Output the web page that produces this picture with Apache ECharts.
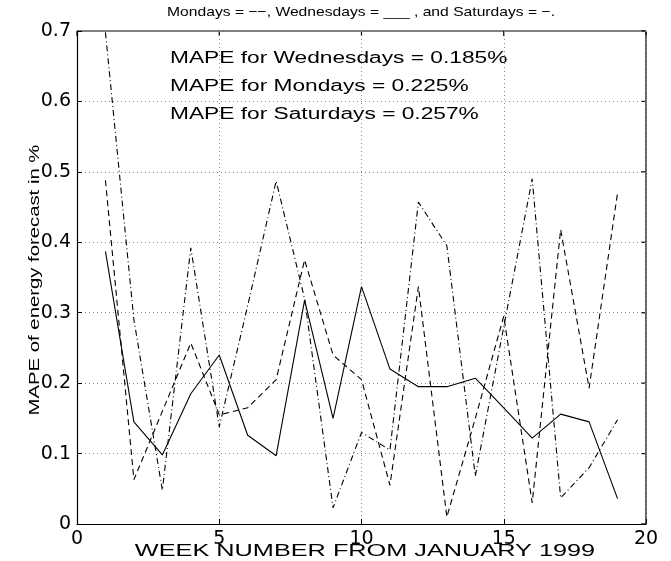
<!DOCTYPE html>
<html>
<head>
<meta charset="utf-8">
<script src="https://cdn.jsdelivr.net/npm/echarts@6.0.0/dist/echarts.min.js"></script>
<style>
html, body { margin: 0; padding: 0; background: #fff; }
#chart { width: 671px; height: 561px; }
</style>
</head>
<body>
<div id="chart"></div>
<script>
// week numbers and MAPE values (%)
var weeks = [1, 2, 3, 4, 5, 6, 7, 8, 9, 10, 11, 12, 13, 14, 15, 16, 17, 18, 19];
var mondays = [0.488, 0.063, 0.16, 0.257, 0.155, 0.165, 0.205, 0.375, 0.24, 0.205, 0.055, 0.337, 0.01, 0.15, 0.295, 0.03, 0.418, 0.193, 0.47];
var wednesdays = [0.387, 0.145, 0.098, 0.185, 0.24, 0.126, 0.097, 0.318, 0.15, 0.337, 0.22, 0.195, 0.195, 0.207, 0.165, 0.122, 0.156, 0.145, 0.036];
var saturdays = [0.698, 0.29, 0.048, 0.392, 0.138, 0.31, 0.487, 0.32, 0.023, 0.13, 0.105, 0.457, 0.395, 0.068, 0.28, 0.49, 0.037, 0.08, 0.148];

// axis ranges and tick values
var xMin = 0, xMax = 20, xStep = 5;
var yMin = 0, yMax = 0.7, yStep = 0.1;
var xTicks = [0, 5, 10, 15, 20];
var yTicks = [0, 0.1, 0.2, 0.3, 0.4, 0.5, 0.6, 0.7];

var seriesNames = ['Mondays', 'Wednesdays', 'Saturdays'];
var mapeLines = [
    'MAPE for Wednesdays = 0.185%',
    'MAPE for Mondays = 0.225%',
    'MAPE for Saturdays = 0.257%'
];
var titleText = 'Mondays = \u2212\u2212, Wednesdays = ___ , and Saturdays = \u2212.';
var xName = 'WEEK NUMBER FROM JANUARY 1999';
var yName = 'MAPE of energy forecast in %';

var FONT = 'Liberation Sans, Arial, Helvetica, sans-serif';

function pairs(ys) {
    var out = [];
    for (var i = 0; i < weeks.length; i++) {
        out.push([weeks[i], ys[i]]);
    }
    return out;
}

function lineSeries(name, ys, dash) {
    return {
        name: name,
        type: 'line',
        data: pairs(ys),
        symbol: 'none',
        silent: true,
        animation: false,
        lineStyle: { color: '#000', width: 1.1, type: dash }
    };
}

// MATLAB style axis: inside ticks and dotted grid
function mainAxis(min, max, interval) {
    return {
        type: 'value',
        min: min,
        max: max,
        interval: interval,
        axisLine: { show: true, onZero: false, lineStyle: { color: '#000', width: 1.2 } },
        axisTick: { show: true, inside: true, length: 5, lineStyle: { color: '#000' } },
        splitLine: { show: true, lineStyle: { color: '#888', type: [1, 3], width: 1 } },
        axisLabel: {
            color: '#000',
            fontFamily: 'DejaVu Sans',
            fontSize: 19,
            margin: 6,
            formatter: function(v) { return String(+v.toFixed(1)); }
        }
    };
}

// free texts, stretched sideways like the original
function stretchedText(txt, x, y, size, sx, align, rot) {
    return {
        type: 'text',
        x: x,
        y: y,
        scaleX: sx,
        rotation: rot || 0,
        silent: true,
        style: {
            text: txt,
            fontFamily: FONT,
            fontSize: size,
            fill: '#000',
            textAlign: align,
            textVerticalAlign: 'middle'
        }
    };
}

function seg(p, q) {
    return {
        type: 'line',
        silent: true,
        shape: { x1: p[0], y1: p[1], x2: q[0], y2: q[1] },
        style: { stroke: '#000', lineWidth: 1.2 }
    };
}

var texts = [
    stretchedText(titleText, 361, 12, 13.5, 1.16, 'center'),
    stretchedText(mapeLines[0], 170, 59, 16, 1.42, 'left'),
    stretchedText(mapeLines[1], 170, 87, 16, 1.42, 'left'),
    stretchedText(mapeLines[2], 170, 115, 16, 1.42, 'left'),
    stretchedText(xName, 365, 552, 16, 1.58, 'center'),
    stretchedText(yName, 35, 280, 14.5, 1.4, 'center', Math.PI / 2)
];

var chart = echarts.init(document.getElementById('chart'), null, { renderer: 'canvas' });
chart.setOption({
    animation: false,
    backgroundColor: '#fff',
    grid: { left: 77, right: 25, top: 31, bottom: 37, containLabel: false },
    xAxis: mainAxis(xMin, xMax, xStep),
    yAxis: mainAxis(yMin, yMax, yStep),
    series: [
        lineSeries(seriesNames[0], mondays, [6, 4]),
        lineSeries(seriesNames[1], wednesdays, 'solid'),
        lineSeries(seriesNames[2], saturdays, [6, 3, 1, 3])
    ],
    graphic: texts
});

// top and right sides of the box with inside ticks, from the axis scales
function px(x, y) {
    return chart.convertToPixel({ gridIndex: 0 }, [x, y]);
}
var box = [];
box.push(seg(px(xMin, yMax), px(xMax, yMax)));
box.push(seg(px(xMax, yMin), px(xMax, yMax)));
xTicks.forEach(function(t) {
    var p = px(t, yMax);
    box.push(seg(p, [p[0], p[1] + 5]));
});
yTicks.forEach(function(t) {
    var p = px(xMax, t);
    box.push(seg(p, [p[0] - 5, p[1]]));
});
chart.setOption({ graphic: texts.concat(box) });
</script>
</body>
</html>
